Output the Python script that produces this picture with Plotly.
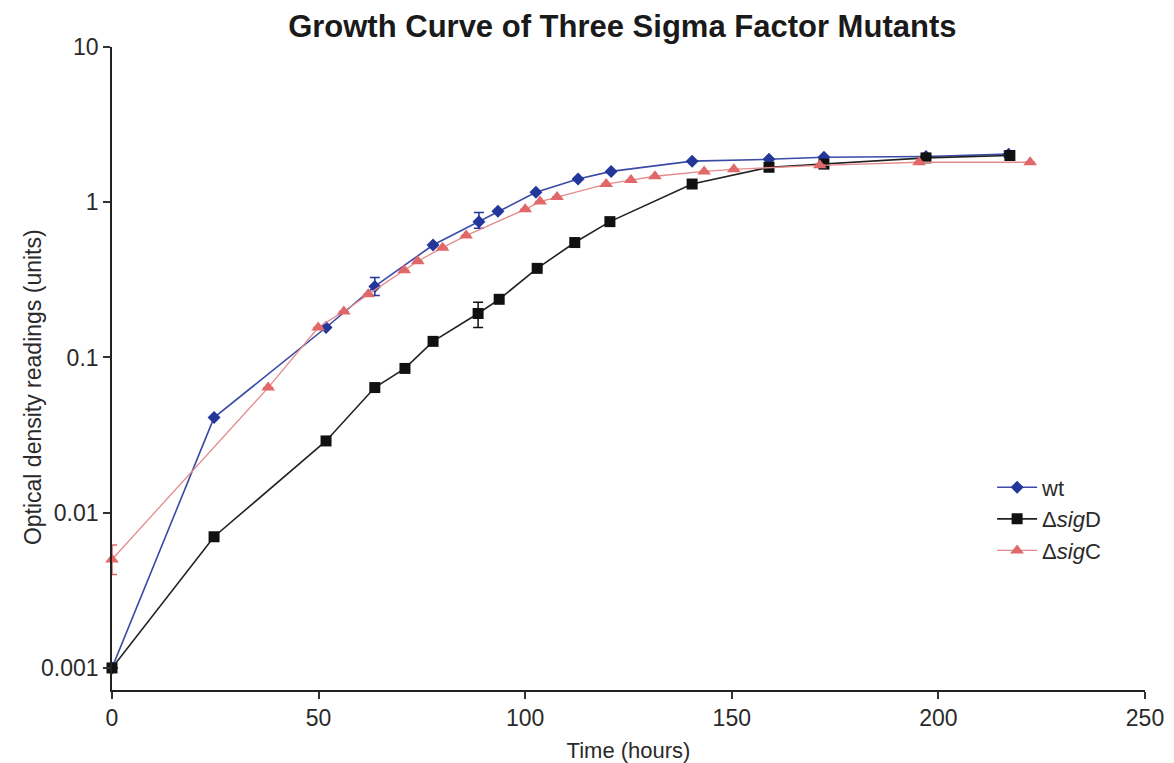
import plotly.graph_objects as go

# ---- data ----
wt_t = [0, 24.7, 51.8, 63.6, 77.7, 88.8, 93.4, 102.6, 112.8, 120.8, 140.4, 159.0, 172.3, 197.0, 217.0]
wt_od = [0.001, 0.041, 0.156, 0.287, 0.53, 0.75, 0.875, 1.16, 1.41, 1.58, 1.84, 1.89, 1.95, 1.97, 2.04]
wt_err_up = [None, None, None, 0.041, None, 0.11, None, None, None, None, None, None, None, None, 0.09]
wt_err_dn = [None, None, None, 0.036, None, 0.07, None, None, None, None, None, None, None, None, 0.09]

sigD_t = [0, 24.7, 51.8, 63.6, 70.9, 77.7, 88.6, 93.7, 102.9, 112.0, 120.5, 140.4, 159.0, 172.3, 197.0, 217.3]
sigD_od = [0.001, 0.007, 0.029, 0.064, 0.085, 0.127, 0.192, 0.237, 0.375, 0.55, 0.75, 1.31, 1.68, 1.76, 1.93, 2.0]
sigD_err_up = [None, None, None, None, None, None, 0.035, None, None, None, None, None, None, None, 0.08, 0.08]
sigD_err_dn = [None, None, None, None, None, None, 0.036, None, None, None, None, None, None, None, 0.08, 0.08]

sigC_t = [0, 37.8, 49.9, 56.1, 62.0, 70.7, 74.0, 80.0, 85.7, 100.0, 103.6, 107.7, 119.6, 125.6, 131.4, 143.3, 150.5, 171.3, 195.3, 222.2]
sigC_od = [0.005, 0.064, 0.156, 0.198, 0.255, 0.364, 0.417, 0.51, 0.61, 0.9, 1.01, 1.08, 1.31, 1.39, 1.47, 1.58, 1.63, 1.73, 1.81, 1.81]
sigC_err_up = [0.0012] + [None] * 19
sigC_err_dn = [0.001] + [None] * 19

y_tickvals = [0.001, 0.01, 0.1, 1, 10]
y_ticktext = ["0.001", "0.01", "0.1", "1", "10"]
x_tickvals = [0, 50, 100, 150, 200, 250]

names = ["wt", "Δ<i>sig</i>D", "Δ<i>sig</i>C"]

FONT = "Liberation Sans, Arial, Helvetica, sans-serif"
TXT = "#2a2a2a"

fig = go.Figure()

fig.add_trace(go.Scatter(
    x=wt_t, y=wt_od, name=names[0], mode="lines+markers",
    line=dict(color="#3a4aa6", width=1.6),
    marker=dict(symbol="diamond", size=10, color="#23369a"),
    error_y=dict(type="data", array=wt_err_up, arrayminus=wt_err_dn, symmetric=False,
                 color="#23369a", thickness=1.5, width=5),
    cliponaxis=False,
))
fig.add_trace(go.Scatter(
    x=sigD_t, y=sigD_od, name=names[1], mode="lines+markers",
    line=dict(color="#222222", width=1.6),
    marker=dict(symbol="square", size=11, color="#111111"),
    error_y=dict(type="data", array=sigD_err_up, arrayminus=sigD_err_dn, symmetric=False,
                 color="#111111", thickness=1.5, width=5),
    cliponaxis=False,
))
fig.add_trace(go.Scatter(
    x=sigC_t, y=sigC_od, name=names[2], mode="lines+markers",
    line=dict(color="#e58a8c", width=1.3),
    marker=dict(symbol="triangle-up", size=12, color="#e06868"),
    error_y=dict(type="data", array=sigC_err_up, arrayminus=sigC_err_dn, symmetric=False,
                 color="#e06868", thickness=1.5, width=5),
    cliponaxis=False,
))

fig.update_layout(
    width=1174, height=763,
    margin=dict(l=112, r=29, t=47, b=73),
    paper_bgcolor="white", plot_bgcolor="white",
    font=dict(family=FONT, color=TXT, size=23),
    title=dict(text="<b>Growth Curve of Three Sigma Factor Mutants</b>",
               x=0.494, xref="paper", xanchor="center",
               y=0.966, yref="container", yanchor="middle",
               font=dict(family=FONT, size=31, color="#1a1a1a")),
    showlegend=True,
    legend=dict(x=0.852, y=0.266, xanchor="left", yanchor="middle",
                bgcolor="rgba(0,0,0,0)", font=dict(family=FONT, size=22, color=TXT),
                tracegroupgap=0, itemwidth=40),
    xaxis=dict(range=[0, 250], tickvals=x_tickvals, showgrid=False, zeroline=False,
               showline=True, linecolor="#222", linewidth=1.6, automargin=False,
               ticks="outside", ticklen=7, tickwidth=1.5, tickcolor="#333",
               title=dict(text="Time (hours)", standoff=12, font=dict(size=22)),
               tickfont=dict(size=23)),
    yaxis=dict(type="log", range=[-3.142, 1], tickvals=y_tickvals, ticktext=y_ticktext,
               showgrid=False, zeroline=False, automargin=False,
               showline=True, linecolor="#222", linewidth=1.6,
               ticks="outside", ticklen=7, tickwidth=1.5, tickcolor="#333",
               tickfont=dict(size=23)),
    annotations=[dict(text="Optical density readings (units)", textangle=-90,
                      xref="paper", yref="paper", x=-0.0765, y=0.471,
                      xanchor="center", yanchor="middle", showarrow=False,
                      font=dict(family=FONT, size=23, color=TXT))],
)

fig.write_html("out.html")
